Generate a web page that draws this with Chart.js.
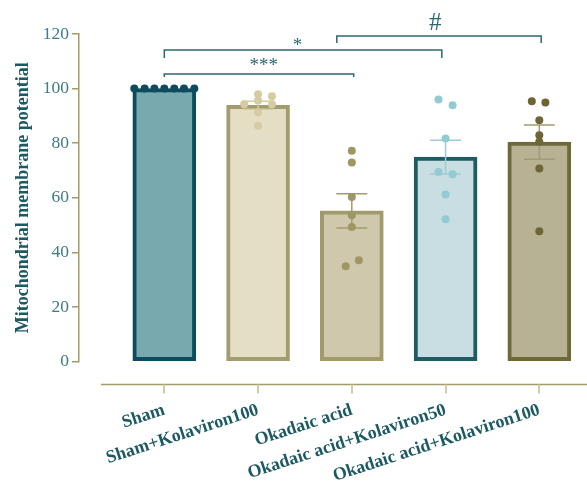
<!DOCTYPE html>
<html>
<head>
<meta charset="utf-8">
<script src="https://cdn.jsdelivr.net/npm/chart.js@4/dist/chart.umd.min.js"></script>
<style>
  html, body { margin: 0; padding: 0; background: #ffffff; }
  #wrap { width: 587px; height: 492px; }
</style>
</head>
<body>
<div id="wrap"><canvas id="chart" width="587" height="492"></canvas></div>
<script>
// Mitochondrial membrane potential per treatment group (mean ± SEM, n = 7)
const groups = ['Sham', 'Sham+Kolaviron100', 'Okadaic acid', 'Okadaic acid+Kolaviron50', 'Okadaic acid+Kolaviron100'];
const means = [100, 93.9, 55.2, 74.9, 80.4];
const sems = [0, 1.5, 6.3, 6.2, 6.3];

// Individual animals
const shamValues = [100, 100, 100, 100, 100, 100, 100];
const shamKolaValues = [97.9, 97.2, 95.6, 94.3, 94.3, 91.2, 86.4];
const okadaicValues = [77.2, 72.9, 60.3, 53.6, 49.3, 37.1, 34.9];
const okadaicKola50Values = [96.0, 93.9, 81.7, 69.4, 68.6, 61.2, 52.1];
const okadaicKola100Values = [95.4, 94.9, 88.4, 82.9, 80.5, 70.7, 47.7];

const yTickValues = [0, 20, 40, 60, 80, 100, 120];

// Pairwise comparisons (group indices) and their significance marks
const comparisonFrom = [0, 0, 2];
const comparisonTo = [2, 3, 4];
const comparisonMarks = ['***', '*', '#'];
const comparisonLevels = [105.3, 114.1, 119.3];

// ---- styling ----
const fills   = ['#78a9af', '#e4dec4', '#cfc8ad', '#c8dee2', '#b8b295'];
const borders = ['#0e4b5e', '#a29d6f', '#a19b69', '#1e5b63', '#6e6a38'];
const dots    = ['#0e4b5e', '#d5cca3', '#9e9663', '#92cbd1', '#6e6535'];
const whiskers = ['#0e4b5e', '#d5cca3', '#a39c6b', '#9aced4', '#a09a76'];
const dotJitter = [
  [-0.32, -0.21, -0.106, 0, 0.106, 0.21, 0.32],
  [0, 0.148, 0, -0.148, 0.148, 0, 0],
  [0, 0, 0, 0, 0, 0.075, -0.065],
  [-0.075, 0.075, 0, -0.075, 0.075, 0, 0],
  [-0.08, 0.065, 0, 0, 0, 0, 0]
];
// bracket geometry: where each bracket starts/ends (in category units) and how far its ends drop
const bracketStart = [0, 0, 1.84];
const bracketEnd = [2.02, 2.96, 4.02];
const bracketDrop = [3, 8, 7];
const markStyle = [
  { font: '19px "Liberation Serif"', at: 1.06, baselineShift: -3 },
  { font: '19px "Liberation Serif"', at: 1.42, baselineShift: 1 },
  { font: '25px "Liberation Serif"', at: 2.89, baselineShift: -6 }
];
const axisColor = '#a39b68';
const tealText = '#3f7c84';
const darkTeal = '#1c5a63';
const bracketColor = '#2c6870';

const pointSets = [shamValues, shamKolaValues, okadaicValues, okadaicKola50Values, okadaicKola100Values];

Chart.defaults.font.family = '"Liberation Serif", "Times New Roman", serif';

const barDataset = {
  type: 'bar',
  data: means.map((m, i) => ({ x: i, y: m })),
  backgroundColor: fills,
  borderColor: borders,
  borderWidth: 4,
  borderSkipped: false,
  barThickness: 63,
  order: 3
};

const dotDatasets = pointSets.map((vals, i) => ({
  type: 'scatter',
  data: vals.map((v, j) => ({ x: i + dotJitter[i][j], y: v })),
  backgroundColor: dots[i],
  borderWidth: 0,
  pointRadius: 4,
  pointHoverRadius: 4,
  order: 1
}));

// SEM whiskers, drawn right after the bars so the dots sit on top
const errorBars = {
  id: 'errorBars',
  afterDatasetDraw(chart, args) {
    if (args.index !== 0) return;
    const { ctx, scales: { x, y } } = chart;
    ctx.save();
    ctx.lineWidth = 1.5;
    means.forEach((m, i) => {
      if (!sems[i]) return;
      const cx = x.getPixelForValue(i);
      const half = x.getPixelForValue(i + 0.165) - cx;
      const top = y.getPixelForValue(m + sems[i]);
      const bot = y.getPixelForValue(m - sems[i]);
      ctx.strokeStyle = whiskers[i];
      ctx.beginPath();
      ctx.moveTo(cx, top); ctx.lineTo(cx, bot);
      ctx.moveTo(cx - half, top); ctx.lineTo(cx + half, top);
      ctx.moveTo(cx - half, bot); ctx.lineTo(cx + half, bot);
      ctx.stroke();
    });
    ctx.restore();
  }
};

// Detached x axis line with tick marks, and the significance brackets
const decorations = {
  id: 'decorations',
  afterDraw(chart) {
    const { ctx, scales: { x, y }, chartArea } = chart;
    ctx.save();
    const axisY = chartArea.bottom + 23;
    ctx.strokeStyle = axisColor;
    ctx.lineWidth = 1.5;
    ctx.beginPath();
    ctx.moveTo(101, axisY);
    ctx.lineTo(chart.width, axisY);
    ctx.stroke();
    ctx.strokeStyle = '#d3cca8';
    ctx.lineWidth = 2;
    groups.forEach((g, i) => {
      const px = Math.round(x.getPixelForValue(i));
      ctx.beginPath();
      ctx.moveTo(px, axisY);
      ctx.lineTo(px, axisY + 9);
      ctx.stroke();
    });

    ctx.strokeStyle = bracketColor;
    ctx.fillStyle = bracketColor;
    ctx.lineWidth = 1.5;
    comparisonMarks.forEach((mark, k) => {
      const x1 = x.getPixelForValue(bracketStart[k]);
      const x2 = x.getPixelForValue(bracketEnd[k]);
      const by = y.getPixelForValue(comparisonLevels[k]);
      ctx.beginPath();
      ctx.moveTo(x1, by + bracketDrop[k]);
      ctx.lineTo(x1, by);
      ctx.lineTo(x2, by);
      ctx.lineTo(x2, by + bracketDrop[k]);
      ctx.stroke();
      ctx.font = markStyle[k].font;
      ctx.textAlign = 'center';
      ctx.textBaseline = 'alphabetic';
      ctx.fillText(mark, x.getPixelForValue(markStyle[k].at), by + markStyle[k].baselineShift);
    });
    ctx.restore();
  }
};

new Chart(document.getElementById('chart'), {
  data: { datasets: [barDataset, ...dotDatasets] },
  options: {
    responsive: false,
    animation: false,
    devicePixelRatio: 1,
    layout: { padding: { top: 34, right: 0, bottom: 0, left: 0 } },
    plugins: { legend: { display: false }, tooltip: { enabled: false } },
    scales: {
      x: {
        type: 'linear',
        min: -0.91,
        max: 4.466,
        offset: false,
        grid: { display: false, drawTicks: false },
        border: { display: false },
        afterBuildTicks(scale) { scale.ticks = groups.map((g, i) => ({ value: i })); },
        afterFit(scale) { scale.height = 130.5; },
        ticks: {
          autoSkip: false,
          minRotation: 18,
          maxRotation: 18,
          padding: 38,
          color: darkTeal,
          font: { size: 18, weight: 'bold' },
          callback: (v) => groups[v]
        }
      },
      y: {
        min: 0,
        max: 120,
        afterBuildTicks(scale) { scale.ticks = yTickValues.map(v => ({ value: v })); },
        afterFit(scale) { scale.width = 79; },
        grid: { drawOnChartArea: false, drawTicks: true, tickLength: 7, color: axisColor, lineWidth: 1.5 },
        border: { display: true, color: axisColor, width: 1.5 },
        ticks: { padding: 3, color: tealText, font: { size: 17.5 } },
        title: {
          display: true,
          text: 'Mitochondrial membrane potential',
          color: darkTeal,
          font: { size: 18, weight: 'bold' },
          padding: { top: 13, bottom: 0 }
        }
      }
    }
  },
  plugins: [errorBars, decorations]
});
</script>
</body>
</html>
